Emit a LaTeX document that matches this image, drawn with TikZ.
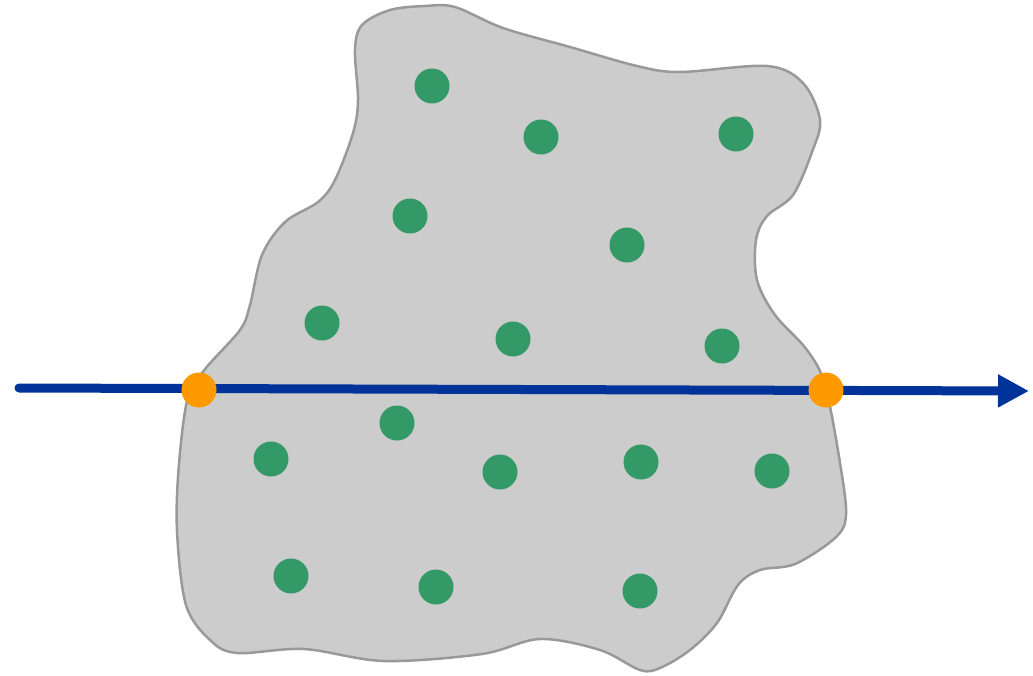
\documentclass[tikz,border=0pt]{standalone}
\usetikzlibrary{arrows.meta}
\definecolor{blobfill}{HTML}{CCCCCC}
\definecolor{blobline}{HTML}{999999}
\definecolor{dotgreen}{HTML}{339966}
\definecolor{dotorange}{HTML}{FF9900}
\definecolor{axisblue}{HTML}{003399}
\tikzset{
  blob/.style={fill=blobfill, draw=blobline, line width=2.5pt},
  gdot/.style={circle, fill=dotgreen, minimum size=35pt, inner sep=0pt},
  odot/.style={circle, fill=dotorange, minimum size=35pt, inner sep=0pt},
  axisline/.style={draw=axisblue, line width=9pt, line cap=round, -{Triangle[length=31pt,width=31pt]}}
}
\begin{document}
\begin{tikzpicture}[x=1pt,y=-1pt]
\useasboundingbox (0,0) rectangle (1033,675);
\draw[blob] plot[smooth cycle, tension=0.55] coordinates {
(355,50) (362,25) (390,10) (425,6) (455,7) (503,28) (570,47) (637,66) (680,72)
(767,66) (803,83) (820,120) (812,152) (793,195) (767,216) (756,240) (757,280)
(775,315) (807,350) (825,385) (840,463) (846,515) (835,538) (795,564) (760,570)
(738,585) (717,623) (690,650) (660,668) (640,670) (600,650) (540,639) (482,654)
(384,661) (304,649) (237,653) (210,640) (186,605) (177,531) (179,464) (188,397)
(206,368) (240,330) (250,305) (262,255) (285,222) (318,202) (335,180) (353,133) (358,100)};
\foreach \n/\x/\y in {g1/432/86, g2/541/137, g3/736/134, g4/410/216, g5/627/245,
  g6/322/323, g7/513/339, g8/722/346, g9/397/423, g10/271/459, g11/500/472,
  g12/641/462, g13/772/471, g14/291/576, g15/436/587, g16/640/591}
  \node[gdot] (\n) at (\x,\y) {};
\coordinate (s) at (19,388);
\coordinate (e) at (1029,391);
\draw[axisline] (s) -- (e);
\node[odot] (p1) at (199,390) {};
\node[odot] (p2) at (826,390) {};
\end{tikzpicture}
\end{document}
